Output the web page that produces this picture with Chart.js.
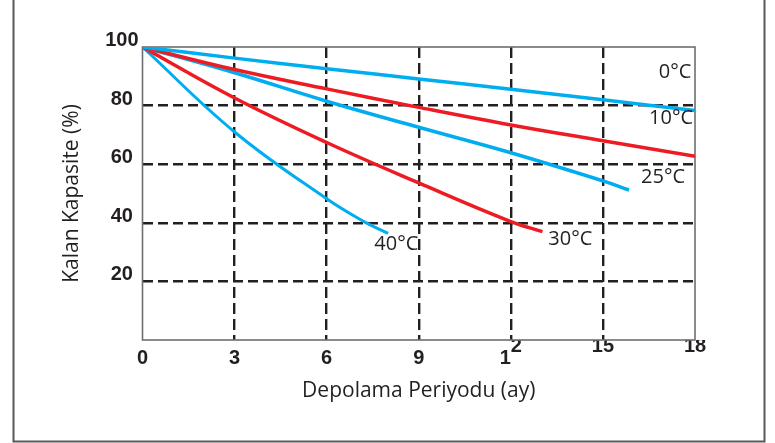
<!DOCTYPE html>
<html>
<head>
<meta charset="utf-8">
<script src="https://cdn.jsdelivr.net/npm/chart.js@4"></script>
<style>
  html, body { margin: 0; padding: 0; background: #ffffff; }
  #wrap { position: relative; width: 775px; height: 443px; }
</style>
</head>
<body>
<div id="wrap"><canvas id="c"></canvas></div>
<script>
// ---- Data ----
const seriesNames = ['0°C', '10°C', '25°C', '30°C', '40°C'];
const months0  = [0, 3, 6, 9, 12, 15, 18];
const values0  = [100, 96.2, 92.6, 89.1, 85.6, 82.0, 78.3];
const months10 = [0, 3, 6, 9, 12, 15, 18];
const values10 = [100, 92.3, 85.7, 79.4, 73.4, 68.0, 62.7];
const months25 = [0, 3, 6, 9, 12, 15, 15.85];
const values25 = [100, 91.2, 81.5, 72.6, 63.9, 54.3, 51.2];
const months30 = [0, 3, 6, 9, 12, 13.03];
const values30 = [100, 82.6, 67.4, 53.6, 40.4, 37.0];
const months40 = [0, 3, 6, 7.2, 8.0];
const values40 = [100, 71.0, 48.2, 40.5, 36.4];

const xTickValues = [0, 3, 6, 9, 12, 15, 18];
const xTickLabels = ['0', '3', '6', '9', '12', '15', '18'];
const yTickValues = [0, 20, 40, 60, 80, 100];
const yTickLabels = ['', '20', '40', '60', '80', '100'];

const xTitle = 'Depolama Periyodu (ay)';
const yTitle = 'Kalan Kapasite (%)';

// label anchors (month, value) for the series names
const labelMonths = [17.35, 17.22, 16.96, 13.94, 8.27];
const labelValues = [91.4, 75.8, 55.7, 34.5, 32.5];

// ---- Styles ----
const BLUE = '#00aeef';
const RED = '#ed1c24';
const INK = '#231f20';
const seriesColors = [BLUE, RED, BLUE, RED, BLUE];
const seriesWidths = [3.5, 3.5, 3.5, 3.5, 3];

const pairs = [[months0, values0], [months10, values10], [months25, values25], [months30, values30], [months40, values40]];
const datasets = pairs.map(([m, v], i) => ({
  label: seriesNames[i],
  data: m.map((x, k) => ({ x: x, y: v[k] })),
  borderColor: seriesColors[i],
  backgroundColor: seriesColors[i],
  borderWidth: seriesWidths[i],
  pointRadius: 0,
  tension: 0.4,
  fill: false
}));

// x tick label layout quirk of the original: low labels for 0..9, high for 15/18, "12" split
function xLabelLines(value) {
  const idx = xTickValues.indexOf(value);
  if (idx < 0) return '';
  const t = xTickLabels[idx];
  if (value <= 9) return ['', t];
  if (value === 12) return ['  ' + t[1], t[0] + '  '];
  return [t, ''];
}

const framePlugin = {
  id: 'frames',
  beforeDatasetsDraw(chart) {
    const { ctx, chartArea: a } = chart;
    ctx.save();
    ctx.strokeStyle = '#6d6e71';
    ctx.lineWidth = 1.6;
    ctx.strokeRect(a.left, a.top, a.right - a.left, a.bottom - a.top);
    ctx.restore();
  },
  afterDraw(chart) {
    const { ctx } = chart;
    ctx.save();
    ctx.strokeStyle = '#58595b';
    ctx.lineWidth = 2;
    ctx.beginPath();
    ctx.moveTo(13.5, 0);
    ctx.lineTo(13.5, 441.5);
    ctx.lineTo(764.5, 441.5);
    ctx.lineTo(764.5, 0);
    ctx.stroke();
    ctx.restore();
  }
};

const seriesLabelPlugin = {
  id: 'seriesLabels',
  afterDatasetsDraw(chart) {
    const { ctx, scales } = chart;
    ctx.save();
    ctx.fillStyle = INK;
    ctx.font = '20px "Open Sans"';
    ctx.textAlign = 'center';
    ctx.textBaseline = 'middle';
    seriesNames.forEach((name, i) => {
      const px = scales.x.getPixelForValue(labelMonths[i]);
      const py = scales.y.getPixelForValue(labelValues[i]);
      ctx.fillText(name, px, py);
    });
    ctx.restore();
  }
};

new Chart(document.getElementById('c'), {
  type: 'line',
  data: { datasets },
  plugins: [framePlugin, seriesLabelPlugin],
  options: {
    responsive: true,
    maintainAspectRatio: false,
    animation: false,
    layout: { padding: { top: 47, right: 80, bottom: 0, left: 0 } },
    plugins: { legend: { display: false }, tooltip: { enabled: false } },
    scales: {
      x: {
        type: 'linear',
        min: 0,
        max: 18,
        afterBuildTicks(scale) { scale.ticks = xTickValues.map(v => ({ value: v })); },
        afterFit(scale) { scale.height = 103; },
        ticks: {
          autoSkip: false,
          maxRotation: 0,
          padding: 0,
          color: INK,
          font: { family: '"Liberation Sans", Arial, sans-serif', size: 20, weight: 'bold', lineHeight: '12.5px' },
          callback: (v) => xLabelLines(v)
        },
        grid: {
          drawTicks: false,
          lineWidth: 2.4,
          color: (c) => (c.tick && (c.tick.value === 0 || c.tick.value === 18)) ? 'rgba(0,0,0,0)' : INK
        },
        border: { display: false, dash: [11, 5] },
        title: {
          display: true,
          text: xTitle,
          color: INK,
          font: { family: '"Open Sans", sans-serif', size: 21, weight: 'normal', lineHeight: 1.2 },
          padding: { top: 0, bottom: 39 }
        }
      },
      y: {
        type: 'linear',
        min: 0,
        max: 100,
        afterBuildTicks(scale) { scale.ticks = yTickValues.map(v => ({ value: v })); },
        afterFit(scale) { scale.width = 142.5; },
        ticks: {
          autoSkip: false,
          padding: 4,
          crossAlign: 'center',
          color: INK,
          font: { family: '"Liberation Sans", Arial, sans-serif', size: 20, weight: 'bold', lineHeight: '13px' },
          callback: (v) => {
            const idx = yTickValues.indexOf(v);
            const t = idx >= 0 ? yTickLabels[idx] : '';
            return t ? [t, ''] : '';
          }
        },
        grid: {
          drawTicks: false,
          lineWidth: 2.4,
          color: (c) => (c.tick && (c.tick.value === 0 || c.tick.value === 100)) ? 'rgba(0,0,0,0)' : INK
        },
        border: { display: false, dash: [10, 5] },
        title: {
          display: true,
          text: yTitle,
          color: INK,
          font: { family: '"Open Sans", sans-serif', size: 21, weight: 'normal', lineHeight: 1.2 },
          padding: { top: 59, bottom: 0 }
        }
      }
    }
  }
});
</script>
</body>
</html>
